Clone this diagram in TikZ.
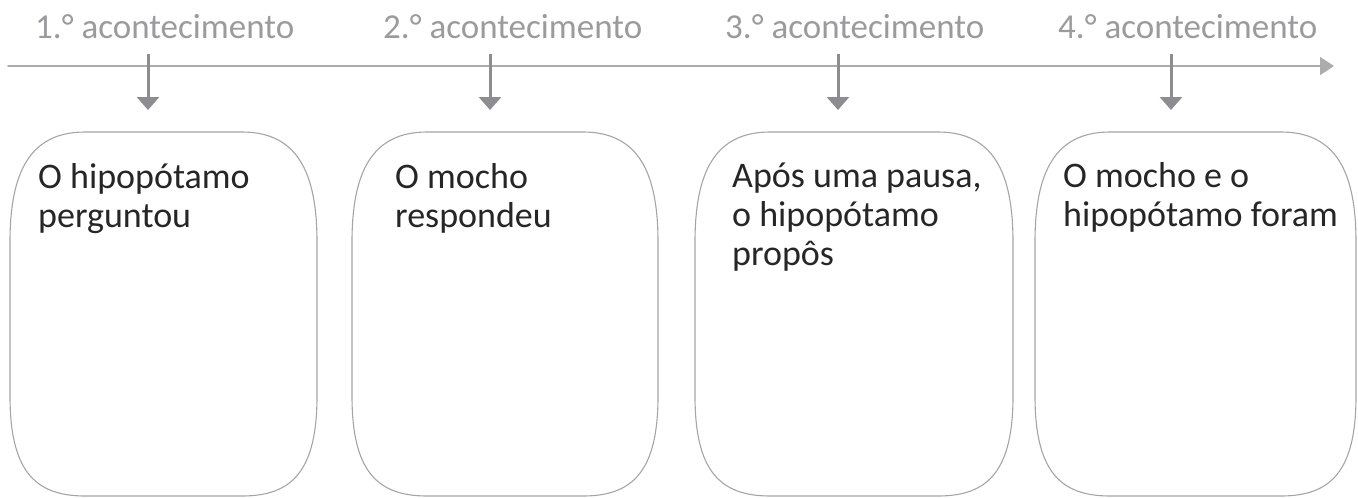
\documentclass[tikz,border=0pt]{standalone}
\usepackage{fontspec}
\setmainfont{Carlito}
\usetikzlibrary{arrows.meta}
\definecolor{labgray}{RGB}{155,155,158}
\definecolor{axisgray}{RGB}{172,172,172}
\definecolor{arrgray}{RGB}{140,140,145}
\definecolor{boxgray}{RGB}{165,165,165}
\definecolor{txtgray}{RGB}{38,38,38}
\newcommand\evbox[2]{%
	\draw[evbox] (#1,\ybot-100) -- (#1,\ytop+110)
	.. controls (#1,\ytop+40) and (#1+20,\ytop) .. (#1+75,\ytop)
	-- (#2-75,\ytop) .. controls (#2-20,\ytop) and (#2,\ytop+40) .. (#2,\ytop+110)
	-- (#2,\ybot-100) .. controls (#2,\ybot-25) and (#2-25,\ybot) .. (#2-75,\ybot)
	-- (#1+75,\ybot) .. controls (#1+25,\ybot) and (#1,\ybot-25) .. (#1,\ybot-100) -- cycle;}
\begin{document}
\begin{tikzpicture}[x=1pt,y=-1pt,line join=round,line cap=round]
			\tikzset{lab/.style={anchor=base west,inner sep=0pt,text=labgray,font=\fontsize{35}{38}\selectfont},
				txt/.style={anchor=base west,inner sep=0pt,align=left,text=txtgray,font=\fontsize{36}{39}\selectfont},
				axis/.style={draw=axisgray,line width=1.6pt,-{Triangle[width=18pt,length=14pt]}},
				evarrow/.style={draw=arrgray,fill=arrgray,line width=3pt,line cap=butt,-{Triangle[width=22pt,length=13pt]}},
				evbox/.style={draw=boxgray,line width=1.1pt}}
			\def\ytop{132}\def\ybot{496}
			\useasboundingbox (0,0) rectangle (1358,498);
			% linha do tempo
			\coordinate (ax0) at (8,66);
			\coordinate (ax1) at (1334,66);
			\draw[axis] (ax0)--(ax1);
			\node[lab] (l1) at (35,38) {1.° acontecimento};
			\node[lab] (l2) at (383,38) {2.° acontecimento};
			\node[lab] (l3) at (725,38) {3.° acontecimento};
			\node[lab] (l4) at (1058,38) {4.° acontecimento};
			\coordinate (d1) at (148,54); \coordinate (t1) at (148,110);
			\coordinate (d2) at (490,54); \coordinate (t2) at (490,110);
			\coordinate (d3) at (838,54); \coordinate (t3) at (838,110);
			\coordinate (d4) at (1171,54); \coordinate (t4) at (1171,110);
			\draw[evarrow] (d1)--(t1);
			\draw[evarrow] (d2)--(t2);
			\draw[evarrow] (d3)--(t3);
			\draw[evarrow] (d4)--(t4);
			% caixas
			\evbox{10}{317}
			\evbox{352}{658}
			\evbox{695}{1013}
			\evbox{1035}{1356}
			% (base = ultima linha)
			\node[txt] (e1) at (38,227) {O hipopótamo\\perguntou};
			\node[txt] (e2) at (395,227) {O mocho\\respondeu};
			\node[txt] (e3) at (732,265) {Após uma pausa,\\o hipopótamo\\propôs};
			\node[txt] (e4) at (1063,226) {O mocho e o\\hipopótamo foram};
\end{tikzpicture}
\end{document}
